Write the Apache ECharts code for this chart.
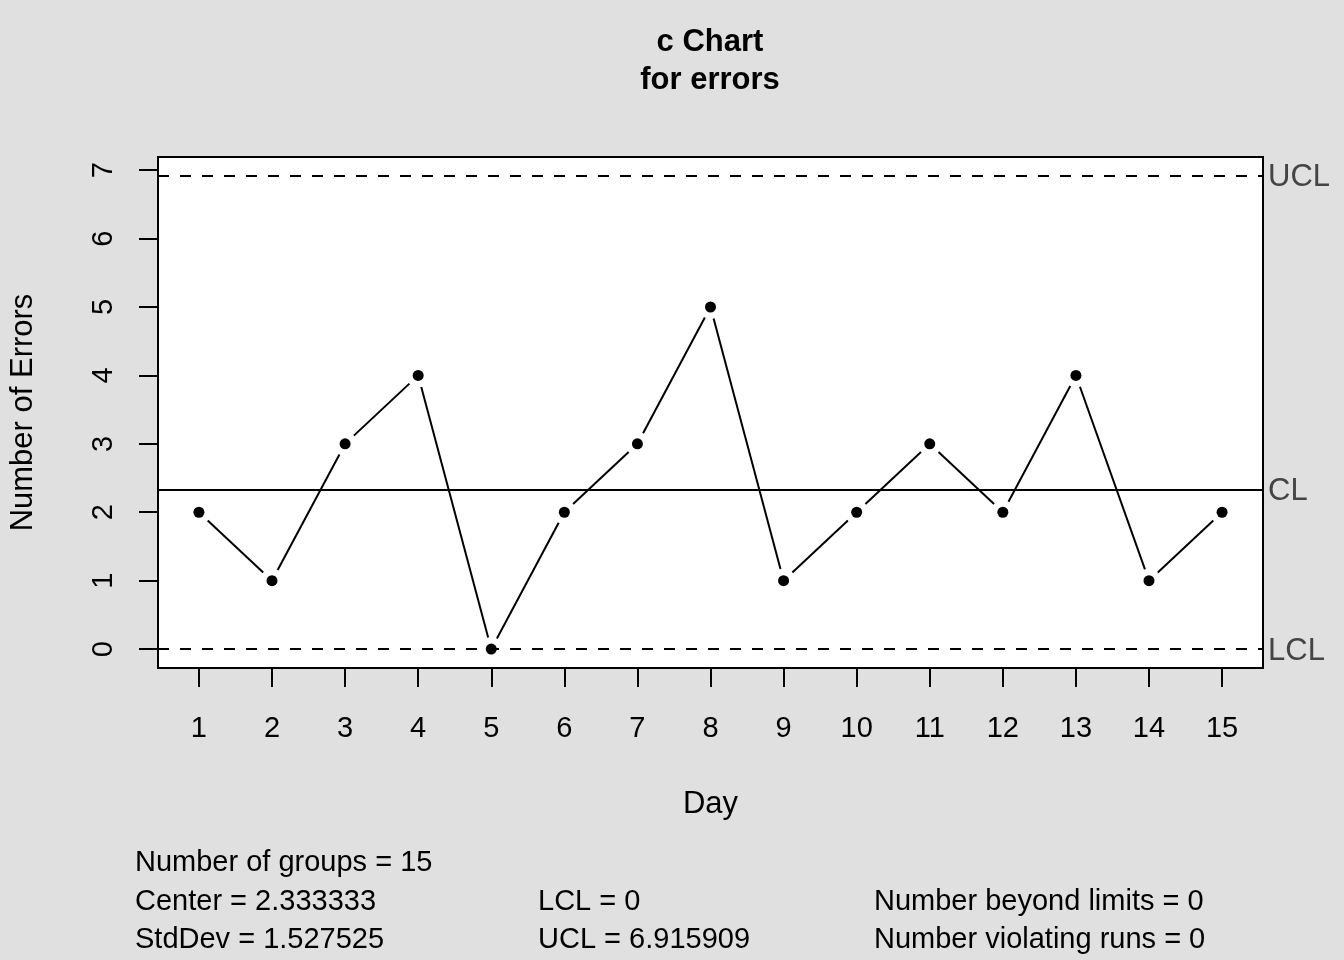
<!DOCTYPE html>
<html><head><meta charset="utf-8">
<script src="https://cdn.jsdelivr.net/npm/echarts@6/dist/echarts.min.js"></script>
<style>html,body{margin:0;padding:0;background:#e0e0e0}#c{width:1344px;height:960px}</style>
</head><body><div id="c"></div>
<script>
const days = [1,2,3,4,5,6,7,8,9,10,11,12,13,14,15];
const errors = [2,1,3,4,0,2,3,5,1,2,3,2,4,1,2];
const yTicks = [0,1,2,3,4,5,6,7];
const center = 2.333333;
const lcl = 0;
const ucl = 6.915909;
const stdDev = 1.527525;
const limitLabels = ['UCL','CL','LCL'];

const FONT = 'Liberation Sans, Arial, Helvetica, sans-serif';
const xMin = 1 - 0.04*14, xMax = 15 + 0.04*14;
const yRange = ucl - lcl;
const yMin = lcl - 0.04*yRange, yMax = ucl + 0.04*yRange;

const segs = [];
for (let i = 0; i < days.length - 1; i++) segs.push([days[i], errors[i], days[i+1], errors[i+1]]);
const GAP = 12;

const chart = echarts.init(document.getElementById('c'), null, {renderer:'canvas'});
const hline = (v, dashed) => ({
  yAxis: v,
  lineStyle: {color:'#000', width:2, type: dashed ? [11,11] : 'solid'},
  label: {show:false}
});
const statText = (x, y, t) => ({type:'text', left:x, top:y, style:{text:t, fontSize:29, fill:'#000', fontFamily:FONT}});
chart.setOption({
  backgroundColor:'#e0e0e0',
  animation:false,
  textStyle:{fontFamily:FONT},
  title:{
    text:'c Chart\nfor errors', left:710, top:23, textAlign:'center', padding:0,
    textStyle:{fontSize:31, fontWeight:'bold', color:'#000', lineHeight:38, fontFamily:FONT}
  },
  grid:{left:157, top:157, width:1106, height:511, show:true, backgroundColor:'#fff', borderColor:'#000', borderWidth:2},
  xAxis:{
    type:'value', min:xMin, max:xMax,
    name:'Day', nameLocation:'middle', nameGap:121,
    nameTextStyle:{fontSize:31, color:'#000', fontFamily:FONT},
    axisLine:{show:false, onZero:false},
    splitLine:{show:false},
    axisTick:{show:true, length:19, customValues:days, lineStyle:{color:'#000', width:2}},
    axisLabel:{customValues:days, fontSize:29, color:'#000', margin:46, fontFamily:FONT}
  },
  yAxis:{
    type:'value', min:yMin, max:yMax,
    name:'Number of Errors', nameLocation:'middle', nameGap:119,
    nameTextStyle:{fontSize:31, color:'#000', fontFamily:FONT},
    axisLine:{show:false, onZero:false},
    splitLine:{show:false},
    axisTick:{show:true, length:19, customValues:yTicks, lineStyle:{color:'#000', width:2}},
    axisLabel:{customValues:yTicks, rotate:90, fontSize:29, color:'#000', margin:40, fontFamily:FONT}
  },
  series:[
    {
      type:'custom', data:segs, silent:true, z:3,
      renderItem:(params, api) => {
        const a = api.coord([api.value(0), api.value(1)]);
        const b = api.coord([api.value(2), api.value(3)]);
        const dx = b[0]-a[0], dy = b[1]-a[1];
        const L = Math.sqrt(dx*dx+dy*dy);
        const ux = dx/L, uy = dy/L;
        return {type:'line', shape:{x1:a[0]+ux*GAP, y1:a[1]+uy*GAP, x2:b[0]-ux*GAP, y2:b[1]-uy*GAP},
          style:{stroke:'#000', lineWidth:2}};
      },
      markLine:{
        silent:true, symbol:'none', animation:false,
        data:[hline(ucl, true), hline(center, false), hline(lcl, true)]
      }
    },
    {
      type:'scatter', data:days.map((d,i)=>[d, errors[i]]), symbol:'circle', symbolSize:11,
      itemStyle:{color:'#000', opacity:1}, z:4, silent:true
    }
  ],
  graphic:[
    statText(135, 848, 'Number of groups = ' + days.length),
    statText(135, 887, 'Center = ' + center.toFixed(6)),
    statText(135, 925, 'StdDev = ' + stdDev.toFixed(6)),
    statText(538, 887, 'LCL = ' + lcl),
    statText(538, 925, 'UCL = ' + ucl.toFixed(6)),
    statText(874, 887, 'Number beyond limits = 0'),
    statText(874, 925, 'Number violating runs = 0')
  ]
});
// limit labels placed at the right of the plot via the library's y scale
const limVals = [ucl, center, lcl];
const xRight = chart.convertToPixel({xAxisIndex:0}, xMax);
chart.setOption({
  graphic: limVals.map((v, i) => ({
    type:'text', id:'lim'+i, x: xRight + 5, y: chart.convertToPixel({yAxisIndex:0}, v) + 2,
    style:{text: limitLabels[i], fontSize:31, fill:'#444', fontFamily:FONT, verticalAlign:'middle', align:'left'}
  }))
});
</script></body></html>
